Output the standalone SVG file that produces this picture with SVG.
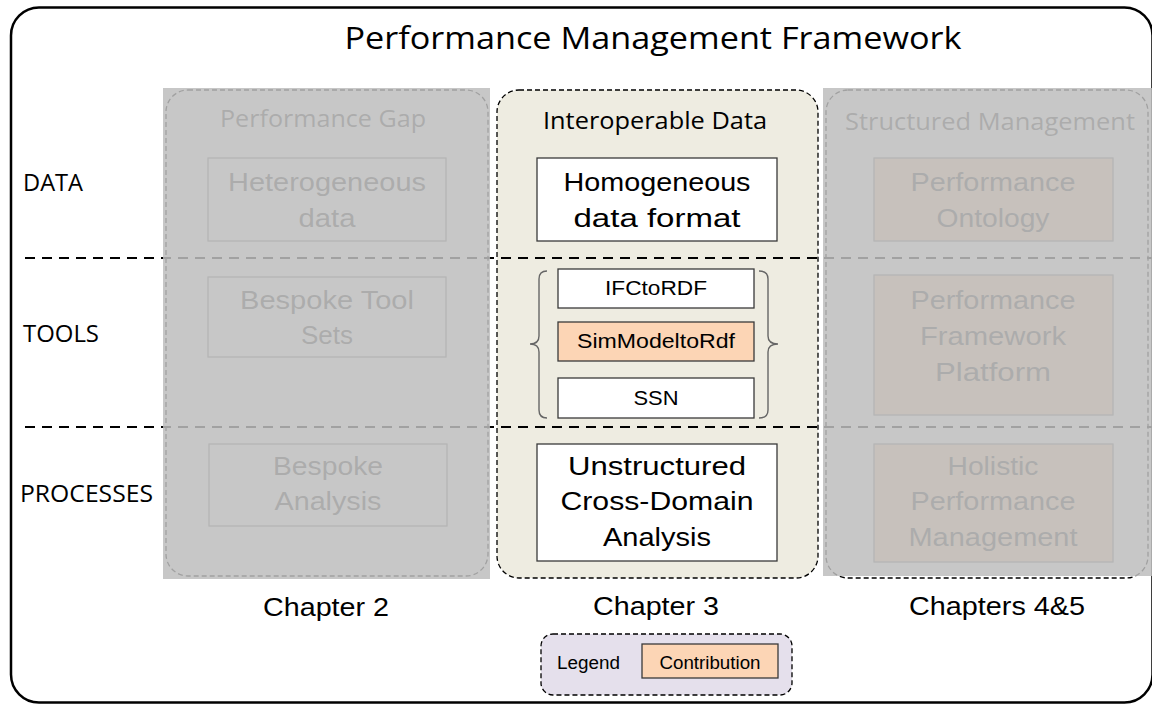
<svg xmlns="http://www.w3.org/2000/svg" width="1152" height="704" viewBox="0 0 1152 704">
  <defs>
    <style>
      .cal { font-family: "Open Sans", "Liberation Sans", sans-serif; fill: #000; }
      .ar { font-family: "Liberation Sans", Arial, sans-serif; fill: #000; }
      .mid { text-anchor: middle; }
      .big { font-size: 26px; }
      .small { font-size: 21px; }
      .chap { font-size: 26px; }
      .col { fill: #eeece1; stroke: #000; stroke-width: 1.3; stroke-dasharray: 5 3; }
      .hidcol { fill: #ffffff; stroke: #000; stroke-width: 1.3; stroke-dasharray: 5 3; }
      .box { fill: #ffffff; stroke: #3a3a3a; stroke-width: 1.3; }
      .contrib { fill: #fcd5b5; stroke: #3a3a3a; stroke-width: 1.3; }
      .hidbox { fill: #ffffff; stroke: #888; stroke-width: 1.3; }
      .hidcontrib { fill: #fcd5b5; stroke: #888; stroke-width: 1.3; }
      .hidtxt { fill: #4a4a4a; }
      .sep { stroke: #000; stroke-width: 2; stroke-dasharray: 10 7; fill: none; }
      .brace { fill: none; stroke: #666; stroke-width: 1.4; }
      .veil { fill: #bdbdbd; fill-opacity: 0.85; }
    </style>
  </defs>

  <!-- outer frame -->
  <rect x="11" y="7.5" width="1141.5" height="695" rx="28" ry="28" fill="#ffffff" stroke="#000" stroke-width="2.5"/>

  <text class="cal mid" x="653" y="49" font-size="31" textLength="617" lengthAdjust="spacingAndGlyphs">Performance Management Framework</text>

  <!-- row labels -->
  <g id="row-labels">
    <text class="cal" x="23" y="191" font-size="24.5" textLength="60" lengthAdjust="spacingAndGlyphs">DATA</text>
    <text class="cal" x="23" y="342" font-size="24.5" textLength="76" lengthAdjust="spacingAndGlyphs">TOOLS</text>
    <text class="cal" x="20" y="502" font-size="24.5" textLength="133" lengthAdjust="spacingAndGlyphs">PROCESSES</text>
  </g>

  <!-- column: Chapter 2 (performance gap) -->
  <g id="col-performance-gap">
    <rect class="hidcol" x="166" y="90" width="322" height="486" rx="22" ry="22"/>
    <text class="cal mid hidtxt" x="323" y="127" font-size="23" textLength="206" lengthAdjust="spacingAndGlyphs">Performance Gap</text>
  </g>
  <g id="node-heterogeneous">
    <rect class="hidbox" x="208" y="158" width="238" height="83"/>
    <text class="ar mid big hidtxt" x="327" y="191" textLength="198" lengthAdjust="spacingAndGlyphs">Heterogeneous</text>
    <text class="ar mid big hidtxt" x="327" y="227" textLength="57" lengthAdjust="spacingAndGlyphs">data</text>
  </g>
  <g id="node-bespoke-tools">
    <rect class="hidbox" x="208" y="277" width="238" height="80"/>
    <text class="ar mid big hidtxt" x="327" y="309" textLength="174" lengthAdjust="spacingAndGlyphs">Bespoke Tool</text>
    <text class="ar mid big hidtxt" x="327" y="344" textLength="52" lengthAdjust="spacingAndGlyphs">Sets</text>
  </g>
  <g id="node-bespoke-analysis">
    <rect class="hidbox" x="209" y="444" width="238" height="82"/>
    <text class="ar mid big hidtxt" x="328" y="475" textLength="110" lengthAdjust="spacingAndGlyphs">Bespoke</text>
    <text class="ar mid big hidtxt" x="328" y="510" textLength="107" lengthAdjust="spacingAndGlyphs">Analysis</text>
  </g>

  <!-- column: Chapters 4&5 (structured management) -->
  <g id="col-structured-management">
    <rect class="hidcol" x="826" y="90" width="322" height="488" rx="22" ry="22"/>
    <text class="cal mid hidtxt" x="990" y="130" font-size="23" textLength="290" lengthAdjust="spacingAndGlyphs">Structured Management</text>
  </g>
  <g id="node-performance-ontology">
    <rect class="hidcontrib" x="874" y="158" width="239" height="83"/>
    <text class="ar mid big hidtxt" x="993" y="191" textLength="165" lengthAdjust="spacingAndGlyphs">Performance</text>
    <text class="ar mid big hidtxt" x="993" y="227" textLength="113" lengthAdjust="spacingAndGlyphs">Ontology</text>
  </g>
  <g id="node-framework-platform">
    <rect class="hidcontrib" x="874" y="275" width="239" height="140"/>
    <text class="ar mid big hidtxt" x="993" y="309" textLength="165" lengthAdjust="spacingAndGlyphs">Performance</text>
    <text class="ar mid big hidtxt" x="993" y="345" textLength="146" lengthAdjust="spacingAndGlyphs">Framework</text>
    <text class="ar mid big hidtxt" x="993" y="381" textLength="116" lengthAdjust="spacingAndGlyphs">Platform</text>
  </g>
  <g id="node-holistic">
    <rect class="hidcontrib" x="874" y="444" width="239" height="118"/>
    <text class="ar mid big hidtxt" x="993" y="475" textLength="91" lengthAdjust="spacingAndGlyphs">Holistic</text>
    <text class="ar mid big hidtxt" x="993" y="510" textLength="165" lengthAdjust="spacingAndGlyphs">Performance</text>
    <text class="ar mid big hidtxt" x="993" y="546" textLength="169" lengthAdjust="spacingAndGlyphs">Management</text>
  </g>

  <!-- column: Chapter 3 (interoperable data) -->
  <g id="col-interoperable-data">
    <rect class="col" x="497" y="90" width="321" height="488" rx="22" ry="22"/>
    <text class="cal mid" x="655" y="129" font-size="23" textLength="224" lengthAdjust="spacingAndGlyphs">Interoperable Data</text>
  </g>

  <!-- layer separators -->
  <g id="connectors">
    <line class="sep" x1="25" y1="258" x2="1152" y2="258"/>
    <line class="sep" x1="25" y1="427" x2="1152" y2="427"/>
  </g>

  <g id="node-homogeneous">
    <rect class="box" x="537" y="158" width="240" height="83"/>
    <text class="ar mid big" x="657" y="191" textLength="187" lengthAdjust="spacingAndGlyphs">Homogeneous</text>
    <text class="ar mid big" x="657" y="227" textLength="167" lengthAdjust="spacingAndGlyphs">data format</text>
  </g>

  <g id="tool-braces">
    <path class="brace" d="M547,271 Q539,271 539,279 L539,336 Q539,344 530,344 Q539,344 539,352 L539,410 Q539,418 547,418"/>
    <path class="brace" d="M759,271 Q768,271 768,279 L768,336 Q768,344 778,344 Q768,344 768,352 L768,410 Q768,418 759,418"/>
  </g>
  <g id="node-ifctordf">
    <rect class="box" x="558" y="269" width="196" height="39"/>
    <text class="ar mid small" x="656" y="295" textLength="102" lengthAdjust="spacingAndGlyphs">IFCtoRDF</text>
  </g>
  <g id="node-simmodeltordf">
    <rect class="contrib" x="558" y="322" width="196" height="39"/>
    <text class="ar mid small" x="656" y="348" textLength="158" lengthAdjust="spacingAndGlyphs">SimModeltoRdf</text>
  </g>
  <g id="node-ssn">
    <rect class="box" x="558" y="378" width="196" height="40"/>
    <text class="ar mid small" x="656" y="405" textLength="45" lengthAdjust="spacingAndGlyphs">SSN</text>
  </g>

  <g id="node-unstructured">
    <rect class="box" x="537" y="444" width="240" height="117"/>
    <text class="ar mid big" x="657" y="475" textLength="178" lengthAdjust="spacingAndGlyphs">Unstructured</text>
    <text class="ar mid big" x="657" y="510" textLength="193" lengthAdjust="spacingAndGlyphs">Cross-Domain</text>
    <text class="ar mid big" x="657" y="546" textLength="108" lengthAdjust="spacingAndGlyphs">Analysis</text>
  </g>

  <!-- translucent veils over the columns outside this chapter -->
  <rect class="veil" x="163" y="88" width="327" height="491"/>
  <rect class="veil" x="823" y="88" width="329" height="488"/>

  <!-- chapter captions -->
  <text class="ar mid chap" x="326" y="616" textLength="126" lengthAdjust="spacingAndGlyphs">Chapter 2</text>
  <text class="ar mid chap" x="656" y="615" textLength="126" lengthAdjust="spacingAndGlyphs">Chapter 3</text>
  <text class="ar mid chap" x="997" y="615" textLength="176" lengthAdjust="spacingAndGlyphs">Chapters 4&amp;5</text>

  <!-- legend -->
  <g id="legend">
    <rect x="541" y="634" width="251" height="61" rx="12" ry="12" fill="#e5e0ec" stroke="#000" stroke-width="1.3" stroke-dasharray="5 3"/>
    <text class="ar" x="557" y="669" font-size="17.5" fill="#262626" textLength="63" lengthAdjust="spacingAndGlyphs">Legend</text>
    <rect class="contrib" x="642" y="644" width="136" height="34"/>
    <text class="ar mid" x="710" y="669" font-size="17.5" fill="#262626" textLength="101" lengthAdjust="spacingAndGlyphs">Contribution</text>
  </g>
</svg>
